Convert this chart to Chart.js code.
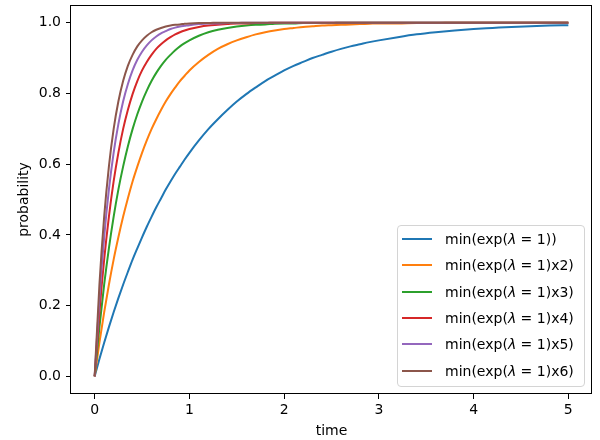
<!DOCTYPE html>
<html>
<head>
<meta charset="utf-8">
<script src="https://cdn.jsdelivr.net/npm/chart.js@4.4.0/dist/chart.umd.min.js"></script>
<style>
  html, body { margin: 0; padding: 0; background: #fff; }
  #wrap { position: relative; width: 600px; height: 440px; }
  #legend {
    position: absolute; left: 397px; top: 225px; width: 186px; height: 160px;
    border: 1px solid #d4d4d4; border-radius: 4px; background: rgba(255,255,255,0.8);
    font-family: 'DejaVu Sans', sans-serif; font-size: 14px; color: #000;
  }
  .row { position: absolute; left: 0; width: 186px; height: 20px; }
  .swatch { position: absolute; left: 4px; top: 9px; width: 30px; height: 2px; }
  .lbl { position: absolute; left: 47px; top: 0; line-height: 20px; white-space: nowrap; }
  .lbl i { font-family: 'DejaVu Sans', sans-serif; font-style: oblique; }
</style>
</head>
<body>
<div id="wrap">
  <canvas id="myChart" width="600" height="440"></canvas>
  <div id="legend"></div>
</div>
<script>
// values
const times = [0, .05, .1, .15, .2, .25, .3, .35, .4, .45, .5, .55, .6, .65, .7, .75, .8, .85, .9, .95, 1.0,
    1.1, 1.2, 1.3, 1.4, 1.5, 1.6, 1.7, 1.8, 1.9, 2.0, 2.1, 2.2, 2.3, 2.4, 2.5, 2.6, 2.7, 2.8, 2.9, 3.0,
    3.2, 3.4, 3.6, 3.8, 4.0, 4.2, 4.4, 4.6, 4.8, 5.0];
const rate1 = [0, .049, .095, .139, .181, .221, .259, .295, .330, .362, .393, .423, .451, .478, .503, .528, .551, .573, .593, .613, .632,
    .667, .699, .727, .753, .777, .798, .817, .835, .850, .865, .878, .889, .900, .909, .918, .926, .933, .939, .945, .950,
    .959, .967, .973, .978, .982, .985, .988, .990, .992, .993];
const rate2 = [0, .095, .181, .259, .330, .393, .451, .503, .551, .593, .632, .667, .699, .727, .753, .777, .798, .817, .835, .850, .865,
    .889, .909, .926, .939, .950, .959, .967, .973, .978, .982, .985, .988, .990, .992, .993, .994, .995, .996, .997, .998,
    .998, .999, .999, 1, 1, 1, 1, 1, 1, 1];
const rate3 = [0, .139, .259, .362, .451, .528, .593, .650, .699, .741, .777, .808, .835, .858, .878, .895, .909, .922, .933, .942, .950,
    .963, .973, .980, .985, .989, .992, .994, .995, .997, .998, .998, .999, .999, .999, .999, 1, 1, 1, 1, 1,
    1, 1, 1, 1, 1, 1, 1, 1, 1, 1];
const rate4 = [0, .181, .330, .451, .551, .632, .699, .753, .798, .835, .865, .889, .909, .926, .939, .950, .959, .967, .973, .978, .982,
    .988, .992, .994, .996, .998, .998, .999, .999, 1, 1, 1, 1, 1, 1, 1, 1, 1, 1, 1, 1,
    1, 1, 1, 1, 1, 1, 1, 1, 1, 1];
const rate5 = [0, .221, .393, .528, .632, .713, .777, .826, .865, .895, .918, .936, .950, .961, .970, .976, .982, .986, .989, .991, .993,
    .996, .998, .998, .999, .999, 1, 1, 1, 1, 1, 1, 1, 1, 1, 1, 1, 1, 1, 1, 1,
    1, 1, 1, 1, 1, 1, 1, 1, 1, 1];
const rate6 = [0, .259, .451, .593, .699, .777, .835, .878, .909, .933, .950, .963, .973, .980, .985, .989, .992, .994, .995, .997, .998,
    .999, .999, 1, 1, 1, 1, 1, 1, 1, 1, 1, 1, 1, 1, 1, 1, 1, 1, 1, 1,
    1, 1, 1, 1, 1, 1, 1, 1, 1, 1];

const seriesNames = ['min(exp(λ = 1))', 'min(exp(λ = 1)x2)', 'min(exp(λ = 1)x3)', 'min(exp(λ = 1)x4)', 'min(exp(λ = 1)x5)', 'min(exp(λ = 1)x6)'];
const seriesColors = ['#1f77b4', '#ff7f0e', '#2ca02c', '#d62728', '#9467bd', '#8c564b'];

const xTicks = [0, 1, 2, 3, 4, 5];
const xTickLabels = ['0', '1', '2', '3', '4', '5'];
const yTicks = [0, 0.2, 0.4, 0.6, 0.8, 1.0];
const yTickLabels = ['0.0', '0.2', '0.4', '0.6', '0.8', '1.0'];

const allSeries = [rate1, rate2, rate3, rate4, rate5, rate6];
const font = { family: "'DejaVu Sans', sans-serif", size: 14 };

const datasets = allSeries.map((vals, i) => ({
    label: seriesNames[i],
    data: vals.map((v, j) => ({ x: times[j], y: v })),
    borderColor: seriesColors[i],
    backgroundColor: seriesColors[i],
    borderWidth: 2,
    pointRadius: 0,
    cubicInterpolationMode: 'monotone',
    order: allSeries.length - i
}));

const frame = {
    id: 'frame',
    afterDatasetsDraw(chart) {
        const { ctx, chartArea: a } = chart;
        ctx.save();
        ctx.strokeStyle = '#000';
        ctx.lineWidth = 1;
        ctx.strokeRect(a.left - 0.5, a.top + 0.5, a.right - a.left, a.bottom - a.top - 1);
        ctx.restore();
    }
};

const ctx = document.getElementById('myChart').getContext('2d');
const myChart = new Chart(ctx, {
    type: 'line',
    data: { datasets: datasets },
    plugins: [frame],
    options: {
        responsive: false,
        animation: false,
        devicePixelRatio: 1,
        layout: { padding: { left: 0, right: 8, top: 5, bottom: 0 } },
        plugins: { legend: { display: false }, tooltip: { enabled: false } },
        scales: {
            x: {
                type: 'linear', min: -0.25, max: 5.25,
                afterBuildTicks: s => { s.ticks = xTicks.map(v => ({ value: v })); },
                afterFit: s => { s.height = 46; s.paddingLeft = 0; s.paddingRight = 0; },
                ticks: { font: font, color: '#000', padding: 3, maxRotation: 0,
                    callback: v => xTickLabels[xTicks.indexOf(v)] },
                grid: { drawOnChartArea: false, drawTicks: true, tickLength: 5, tickColor: '#000', tickWidth: 1 },
                border: { display: false },
                title: { display: true, text: 'time', font: font, color: '#000', padding: { top: 0, bottom: 0 } }
            },
            y: {
                min: -0.05, max: 1.05,
                afterBuildTicks: s => { s.ticks = yTicks.map(v => ({ value: v })); },
                afterFit: s => { s.width = 71; s.paddingTop = 0; s.paddingBottom = 0; },
                ticks: { font: font, color: '#000', padding: 5,
                    callback: v => yTickLabels[yTicks.findIndex(t => Math.abs(t - v) < 1e-9)] },
                grid: { drawOnChartArea: false, drawTicks: true, tickLength: 5, tickColor: '#000', tickWidth: 1 },
                border: { display: false },
                title: { display: true, text: 'probability', font: font, color: '#000', padding: { top: 16, bottom: 0 } }
            }
        }
    }
});

// legend inside the plot, lower right
const legendBox = document.getElementById('legend');
myChart.data.datasets.forEach((ds, i) => {
    const row = document.createElement('div');
    row.className = 'row';
    row.style.top = (3 + i * 26.3) + 'px';
    const sw = document.createElement('div');
    sw.className = 'swatch';
    sw.style.background = ds.borderColor;
    const lbl = document.createElement('div');
    lbl.className = 'lbl';
    lbl.innerHTML = ds.label.replace('λ', '<i>λ</i>');
    row.appendChild(sw);
    row.appendChild(lbl);
    legendBox.appendChild(row);
});
</script>
</body>
</html>
